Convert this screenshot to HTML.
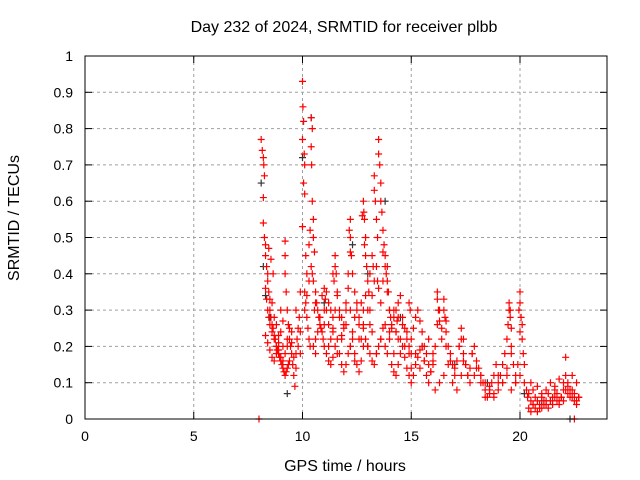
<!DOCTYPE html>
<html><head><meta charset="utf-8"><style>
body{margin:0;background:#fff}
svg{display:block;font-family:"Liberation Sans",sans-serif}
</style></head><body>
<svg id="chart" width="640" height="480">
<text x="344" y="32" text-anchor="middle" font-size="16">Day 232 of 2024, SRMTID for receiver plbb</text>
<text x="345" y="471" text-anchor="middle" font-size="16">GPS time / hours</text>
<text transform="translate(19,218) rotate(-90)" text-anchor="middle" font-size="16">SRMTID / TECUs</text>
<g id="grid"></g><g id="ticks"></g><g id="marksB"></g><g id="marksR"></g>
<rect x="85" y="56" width="522" height="363" fill="none" stroke="#000" stroke-width="1"/>
</svg>
<script>
const xTicks=[0,5,10,15,20];
const yTicks=[0,0.1,0.2,0.3,0.4,0.5,0.6,0.7,0.8,0.9,1];
const yTickLabels=["0","0.1","0.2","0.3","0.4","0.5","0.6","0.7","0.8","0.9","1"];
const redHours=[8.0,8.1,8.15,8.2,8.22,8.25,8.2,8.2,8.25,8.3,8.3,8.35,8.4,8.4,8.45,8.5,8.5,8.55,8.6,8.65,8.7,8.75,8.8,8.85,8.9,8.95,9.0,9.05,9.1,9.15,9.2,9.25,9.3,9.35,9.4,
8.3,8.35,8.4,8.45,8.5,8.6,8.7,8.8,8.9,9.0,9.1,9.2,9.2,9.2,9.25,9.3,9.35,9.4,9.45,9.5,9.55,9.6,9.65,9.7,9.75,9.8,9.85,9.9,
10.0,10.02,10.05,10.0,10.08,10.1,10.05,10.1,10.0,10.15,10.2,10.1,10.15,10.2,10.25,10.3,10.35,10.4,10.45,10.4,10.42,10.45,10.5,10.5,10.55,10.4,10.45,10.5,10.6,10.65,10.7,10.75,10.8,10.85,10.9,10.95,
11.0,11.05,11.1,11.2,11.3,11.4,11.5,11.5,11.55,11.6,11.7,11.8,11.9,12.0,12.1,12.2,12.2,12.25,12.3,12.4,12.5,12.6,12.7,
11.0,11.1,11.2,11.3,11.4,11.5,11.6,11.7,11.8,11.9,12.0,12.1,12.2,12.3,12.4,12.5,12.6,12.7,12.8,
12.8,12.82,12.85,12.9,12.9,12.95,13.0,13.05,13.1,13.2,13.3,13.3,13.35,13.4,13.45,13.5,13.5,13.55,13.6,13.6,13.65,13.7,13.75,13.8,13.9,13.9,13.95,14.0,14.05,
12.8,12.9,13.0,13.1,13.2,13.3,13.4,13.5,13.6,13.7,13.8,13.9,14.0,14.1,14.2,14.3,14.4,14.5,14.6,14.7,14.8,14.9,15.0,
14.1,14.2,14.3,14.4,14.5,14.6,14.7,14.8,14.9,15.0,15.1,15.2,15.3,15.4,15.5,15.6,15.7,15.8,15.9,16.0,
15.1,15.2,15.3,15.4,15.5,15.6,15.7,15.8,15.9,16.0,16.1,16.2,16.2,16.25,16.3,16.4,16.5,16.5,16.55,16.6,16.7,16.8,16.9,17.0,17.1,17.2,17.3,17.3,17.4,17.5,17.6,17.7,17.8,17.9,18.0,
16.1,16.3,16.5,16.7,16.9,17.1,17.3,17.5,17.7,17.9,18.1,18.2,18.3,18.4,18.5,18.6,18.7,18.8,18.9,19.0,19.1,19.2,19.3,19.4,19.5,19.5,19.55,19.6,19.6,19.7,19.8,19.9,20.0,20.0,20.05,20.1,20.15,20.2,
18.2,18.4,18.6,18.8,19.0,19.2,19.4,19.6,19.8,20.0,20.2,20.3,20.35,
20.4,20.5,20.6,20.7,20.8,20.9,21.0,21.1,21.2,21.3,21.4,21.5,21.6,21.7,21.8,21.9,22.0,22.1,22.1,22.2,22.3,22.4,22.5,22.6,22.7,
20.4,20.5,20.6,20.7,20.8,20.9,21.0,21.1,21.2,21.3,21.4,21.5,21.6,21.7,21.8,21.9,22.0,22.1,22.2,22.3,22.4,22.5,22.6,22.7,
20.5,20.6,20.8,21.0,21.2,21.4,21.6,21.8,22.0,22.2,22.4,22.6,22.5,
8.3,8.4,8.5,8.6,8.7,8.8,8.9,9.0,9.1,9.2,9.3,9.4,9.5,9.6,9.7,9.8,9.9,8.6,8.7,8.8,8.9,9.0,9.1,9.3,9.5,9.7,9.9,8.45,8.55,8.65,
10.1,10.2,10.3,10.5,10.6,10.7,10.8,10.9,11.0,11.1,11.2,11.3,11.4,11.5,11.6,11.7,11.8,11.9,12.0,12.1,12.2,12.3,12.4,12.5,12.6,12.7,12.8,12.9,13.0,13.1,
10.6,10.8,11.0,11.2,11.4,11.6,11.8,12.0,12.2,12.4,12.6,12.8,13.0,13.2,13.4,13.6,13.8,14.0,14.2,14.4,
13.1,13.2,13.3,13.4,13.5,13.6,13.7,13.8,13.9,14.0,14.1,14.2,14.3,14.4,14.5,14.6,14.7,14.8,14.9,15.0,
15.0,15.2,15.4,15.6,15.8,16.0,16.2,16.4,16.6,16.8,17.0,17.2,17.4,17.6,17.8,18.0,18.2,18.4,18.6,18.8,19.0,19.2,19.4,19.6,19.8,20.0,
10.3,10.35,10.55,10.6,11.4,11.45,12.15,12.2,12.75,12.85,13.25,13.45,13.7,13.85,14.3,14.35,14.9,14.95,16.3,16.6,17.4,19.45,19.55,19.95,20.1];
const redValues=[0.0,0.77,0.74,0.72,0.70,0.67,0.61,0.54,0.50,0.48,0.45,0.42,0.40,0.38,0.35,0.33,0.30,0.28,0.26,0.25,0.23,0.22,0.20,0.19,0.18,0.17,0.16,0.15,0.14,0.13,0.12,0.13,0.14,0.15,0.16,
0.36,0.33,0.30,0.28,0.26,0.24,0.22,0.20,0.19,0.17,0.16,0.49,0.45,0.40,0.35,0.30,0.26,0.22,0.20,0.18,0.15,0.12,0.09,0.18,0.22,0.25,0.28,0.35,
0.93,0.86,0.82,0.77,0.73,0.70,0.65,0.62,0.53,0.45,0.40,0.35,0.32,0.28,0.25,0.22,0.20,0.83,0.80,0.75,0.70,0.60,0.55,0.50,0.46,0.42,0.40,0.38,0.35,0.32,0.30,0.28,0.26,0.25,0.24,0.22,
0.30,0.33,0.35,0.32,0.30,0.28,0.45,0.42,0.40,0.35,0.30,0.28,0.25,0.30,0.40,0.55,0.50,0.45,0.40,0.35,0.30,0.28,0.32,
0.20,0.18,0.16,0.15,0.17,0.20,0.22,0.18,0.15,0.13,0.15,0.18,0.20,0.22,0.18,0.15,0.13,0.16,0.20,
0.60,0.57,0.55,0.50,0.45,0.42,0.38,0.35,0.40,0.45,0.67,0.63,0.60,0.55,0.50,0.77,0.73,0.70,0.65,0.60,0.57,0.52,0.48,0.45,0.42,0.38,0.35,0.30,0.28,
0.25,0.22,0.20,0.18,0.16,0.15,0.18,0.20,0.22,0.25,0.20,0.18,0.22,0.25,0.28,0.30,0.32,0.34,0.28,0.25,0.22,0.20,0.18,
0.15,0.13,0.12,0.15,0.18,0.20,0.17,0.14,0.12,0.10,0.12,0.15,0.17,0.19,0.20,0.16,0.12,0.10,0.13,0.15,
0.25,0.28,0.30,0.27,0.24,0.20,0.18,0.15,0.13,0.16,0.20,0.35,0.33,0.30,0.27,0.25,0.33,0.30,0.28,0.24,0.20,0.18,0.15,0.12,0.16,0.20,0.25,0.22,0.18,0.15,0.12,0.14,0.18,0.20,0.16,
0.08,0.10,0.12,0.15,0.10,0.08,0.12,0.15,0.10,0.12,0.14,0.12,0.10,0.08,0.06,0.07,0.10,0.12,0.15,0.10,0.12,0.15,0.18,0.22,0.32,0.30,0.28,0.25,0.20,0.15,0.12,0.15,0.35,0.32,0.28,0.22,0.18,0.15,
0.12,0.10,0.08,0.06,0.08,0.10,0.12,0.08,0.10,0.12,0.10,0.08,0.06,
0.07,0.05,0.04,0.06,0.05,0.03,0.06,0.04,0.05,0.07,0.05,0.06,0.08,0.07,0.05,0.06,0.08,0.17,0.12,0.10,0.08,0.06,0.07,0.05,0.06,
0.03,0.02,0.04,0.03,0.02,0.04,0.03,0.05,0.04,0.03,0.05,0.04,0.06,0.05,0.04,0.06,0.05,0.08,0.07,0.06,0.08,0.05,0.04,0.06,
0.10,0.08,0.09,0.07,0.08,0.10,0.09,0.11,0.10,0.09,0.12,0.10,0.0,
0.23,0.21,0.19,0.17,0.16,0.18,0.21,0.24,0.20,0.18,0.22,0.25,0.21,0.17,0.14,0.20,0.24,0.32,0.28,0.26,0.23,0.30,0.27,0.20,0.24,0.30,0.18,0.47,0.44,0.40,
0.30,0.34,0.38,0.20,0.18,0.24,0.28,0.34,0.36,0.30,0.26,0.22,0.25,0.30,0.34,0.28,0.23,0.26,0.32,0.36,0.30,0.24,0.28,0.32,0.26,0.22,0.30,0.34,0.30,0.26,
0.22,0.28,0.26,0.20,0.24,0.18,0.22,0.26,0.20,0.16,0.22,0.26,0.20,0.24,0.18,0.22,0.26,0.24,0.18,0.22,
0.30,0.34,0.38,0.42,0.36,0.32,0.38,0.42,0.35,0.30,0.26,0.30,0.24,0.28,0.22,0.26,0.20,0.24,0.18,0.14,
0.22,0.18,0.14,0.16,0.22,0.18,0.26,0.22,0.20,0.16,0.14,0.20,0.16,0.12,0.18,0.14,0.10,0.06,0.09,0.07,0.12,0.10,0.14,0.18,0.10,0.24,
0.48,0.52,0.30,0.32,0.40,0.38,0.52,0.46,0.56,0.48,0.42,0.38,0.46,0.40,0.24,0.27,0.32,0.30,0.30,0.27,0.22,0.26,0.30,0.30,0.26];
const blackHours=[8.1,8.2,8.3,8.5,9.3,10.0,10.4,11.0,12.3,13.0,13.8,14.5,15.5,17.0,18.5,20.2,21.0,22.3];
const blackValues=[0.65,0.42,0.34,0.28,0.07,0.72,0.83,0.32,0.48,0.40,0.60,0.28,0.20,0.15,0.10,0.07,0.05,0.0];
const X=h=>85+h*522/24, Y=v=>419-v*363;
const ns="http://www.w3.org/2000/svg";
function mk(tag,at,parent){const e=document.createElementNS(ns,tag);for(const k in at)e.setAttribute(k,at[k]);document.getElementById(parent).appendChild(e);return e;}
xTicks.forEach(t=>{
 const g=mk('line',{x1:X(t),x2:X(t),y1:56,y2:419,stroke:'#a0a0a0','stroke-dasharray':'3,3'},'grid');
 
 
 mk('line',{x1:X(t),x2:X(t),y1:419,y2:412,stroke:'#000'},'ticks');
 mk('line',{x1:X(t),x2:X(t),y1:56,y2:63,stroke:'#000'},'ticks');
 const l=mk('text',{x:X(t),y:441,'text-anchor':'middle','font-size':14},'ticks');l.textContent=t;
 
 
});
yTicks.forEach((t,i)=>{
 const g=mk('line',{x1:85,x2:607,y1:Y(t),y2:Y(t),stroke:'#a0a0a0','stroke-dasharray':'3,3'},'grid');
 
 
 mk('line',{x1:85,x2:92,y1:Y(t),y2:Y(t),stroke:'#000'},'ticks');
 mk('line',{x1:600,x2:607,y1:Y(t),y2:Y(t),stroke:'#000'},'ticks');
 const l=mk('text',{x:73,y:Y(t)+5,'text-anchor':'end','font-size':14},'ticks');l.textContent=yTickLabels[i];
 
 
});
function plus(h,v,c,p){const x=X(h),y=Y(v);
 const e=mk('path',{d:`M${x-3.5},${y}H${x+3.5}M${x},${y-3.5}V${y+3.5}`,stroke:c,'stroke-width':1.2,fill:'none'},p);
 return e;}
blackHours.forEach((h,i)=>{const e=plus(h,blackValues[i],'#333','marksB');
 
 });
redHours.forEach((h,i)=>{const e=plus(h,redValues[i],'#ff0000','marksR');
 
 });
</script>
</body></html>
